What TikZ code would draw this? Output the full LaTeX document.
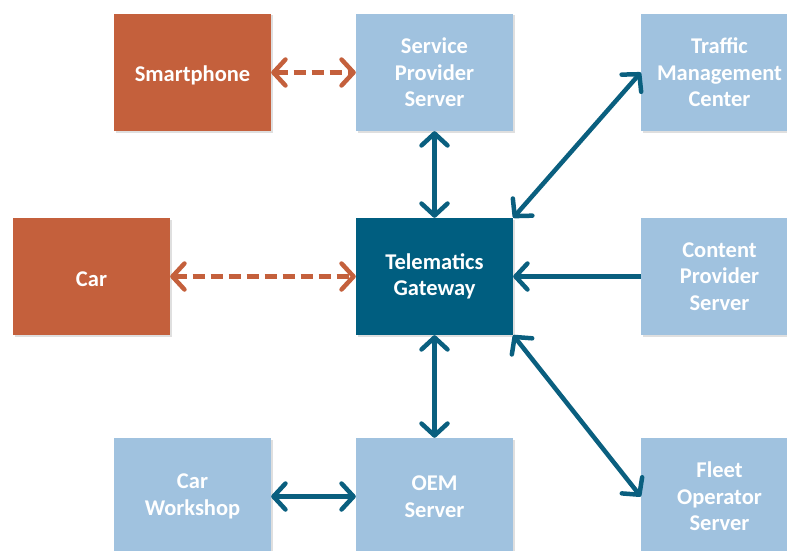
\documentclass[tikz,border=0pt]{standalone}
\usepackage{fontspec}
\setmainfont{Carlito}
\usetikzlibrary{arrows.meta,shadows}
\definecolor{orng}{HTML}{C4603C}
\definecolor{lblue}{HTML}{A0C2DF}
\definecolor{dteal}{HTML}{005E80}
\definecolor{arr}{HTML}{0A5F7F}
\begin{document}
\begin{tikzpicture}[x=1pt,y=-1pt,
  >={Straight Barb[length=12pt,width=26pt,round]},
  box/.style={minimum width=157pt,minimum height=117pt,inner sep=0pt,text=white,
    font=\fontsize{22.5}{26.5}\selectfont\bfseries,align=center,
    execute at begin node={\rule{0pt}{21pt}},
    drop shadow={shadow xshift=1.5pt,shadow yshift=-1.5pt,opacity=0.25}},
  obox/.style={box,fill=orng},
  lbox/.style={box,fill=lblue},
  dbox/.style={box,fill=dteal},
  link/.style={draw=arr,line width=4.5pt,<->},
  olink/.style={draw=orng,line width=4.5pt,dash pattern=on 12pt off 6pt,<->},
  ]
\useasboundingbox (0,0) rectangle (787,551);
\node[obox] (smart) at (192.5,72.5) {Smartphone};
\node[lbox] (sps) at (434.5,72.5) {Service\\Provider\\Server};
\node[lbox] (tmc) at (719.5,72.5) {Traffic\\Management\\Center};
\node[obox] (car) at (91.5,276.5) {Car};
\node[dbox] (tg) at (434.5,276.5) {Telematics\\Gateway};
\node[lbox] (cps) at (719.5,276.5) {Content\\Provider\\Server};
\node[lbox] (cw) at (192.5,496.5) {Car\\Workshop};
\node[lbox] (oem) at (434.5,496.5) {OEM\\Server};
\node[lbox] (fleet) at (719.5,496.5) {Fleet\\Operator\\Server};

\draw[olink] (smart.east) -- (sps.west);
\draw[olink] (car.east) -- (tg.west);
\draw[link] (sps.south) -- (tg.north);
\draw[link] (tg.south) -- (oem.north);
\draw[link] (cw.east) -- (oem.west);
\draw[link] (tg.north east) -- (tmc.west);
\draw[draw=arr,line width=4.5pt,->] (cps.west) -- (tg.east);
\draw[link] (tg.south east) -- (fleet.west);
\end{tikzpicture}
\end{document}
